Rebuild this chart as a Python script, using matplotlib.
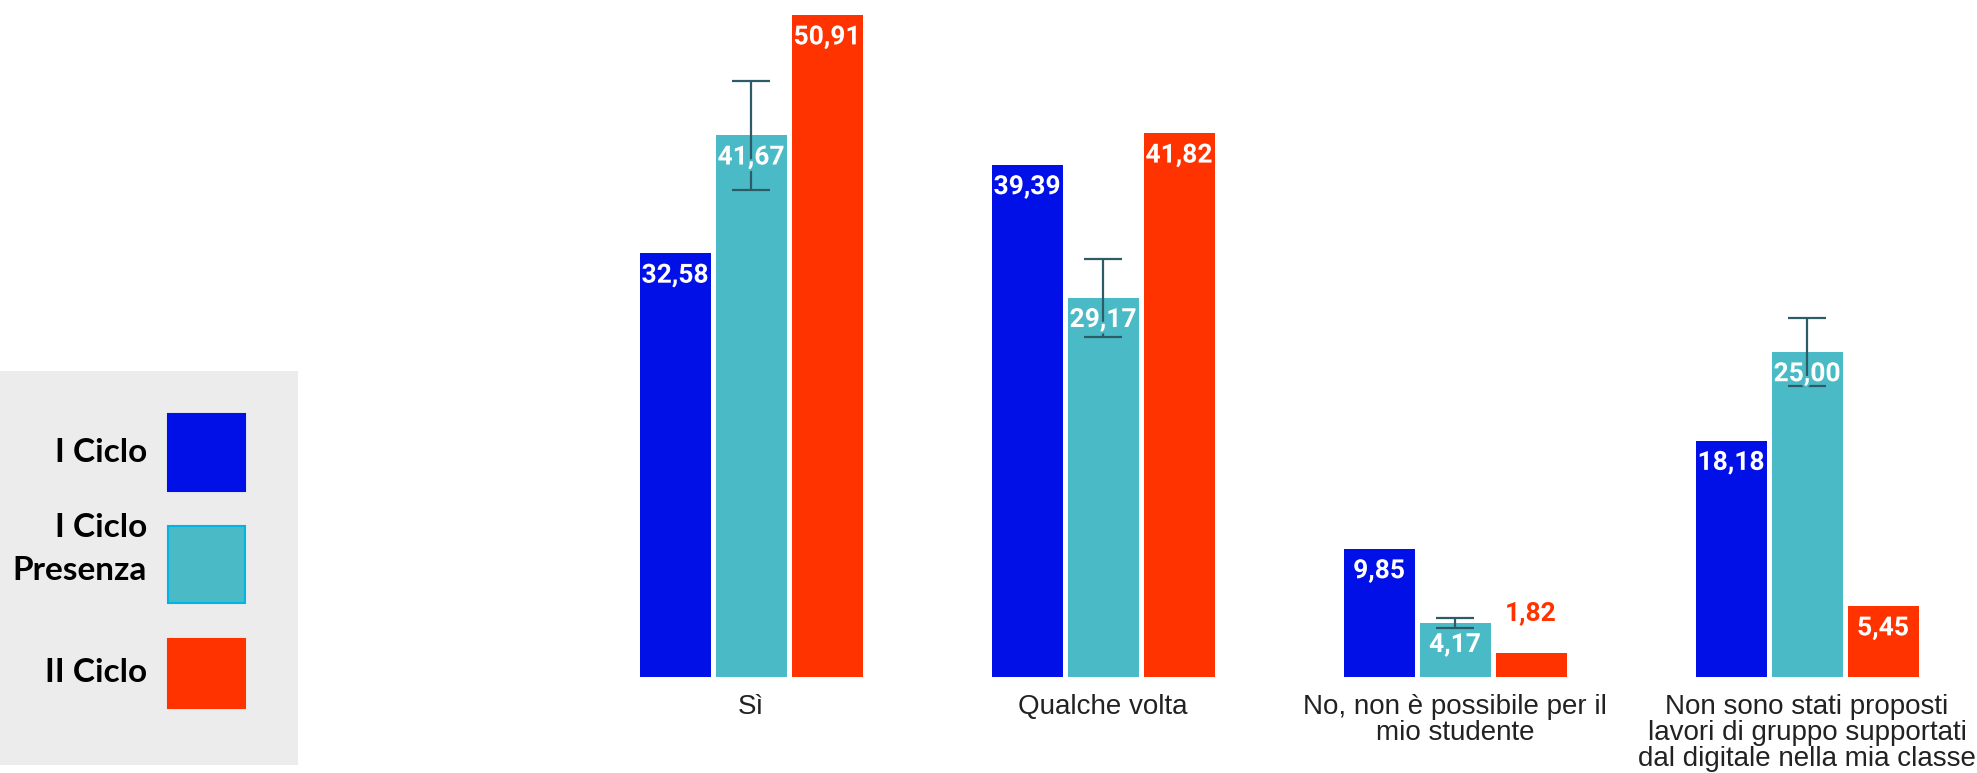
import matplotlib
matplotlib.use("Agg")
import matplotlib.pyplot as plt
import matplotlib.patheffects as pe
from matplotlib.patches import Rectangle
import numpy as np

# data
categories = ["Sì", "Qualche volta", "No, non è possibile per il\nmio studente",
              "Non sono stati proposti\nlavori di gruppo supportati\ndal digitale nella mia classe"]
series = ["I Ciclo", "I Ciclo\nPresenza", "II Ciclo"]
i_ciclo = [32.58, 39.39, 9.85, 18.18]
i_ciclo_presenza = [41.67, 29.17, 4.17, 25.00]
ii_ciclo = [50.91, 41.82, 1.82, 5.45]
presenza_err = [4.17, 3.0, 0.4, 2.6]

colors = ["#0010e6", "#4abbc6", "#ff3300"]
W, H = 1977, 773

fig = plt.figure(figsize=(W / 100, H / 100), dpi=100)

# main axes, laid out in pixels
ax_left, ax_bottom = 560, 96
ax = fig.add_axes([ax_left / W, ax_bottom / H, (W - ax_left) / W, (H - ax_bottom) / H])
x = np.arange(len(categories))
px_per_unit = 352.0
bw = 71 / px_per_unit
step = 76 / px_per_unit
ax.set_xlim(-(751 - ax_left) / px_per_unit, (W - 751) / px_per_unit)
ax.set_ylim(0, 677 / 13.0)

values = [i_ciclo, i_ciclo_presenza, ii_ciclo]
for k, (vals, col) in enumerate(zip(values, colors)):
    xs = x + (k - 1) * step
    ax.bar(xs, vals, width=bw, color=col, zorder=2)
    if k == 1:
        ax.errorbar(xs, vals, yerr=presenza_err, fmt="none", ecolor="#2d5c66",
                    elinewidth=1.6, capsize=14, capthick=1.6, zorder=3)
    for xi, v in zip(xs, vals):
        if v < 3:
            ax.annotate(f"{v:.2f}".replace(".", ","), (xi, v), xytext=(0, 29),
                        textcoords="offset points", ha="center", va="center",
                        fontsize=19, fontweight="bold", family="Roboto",
                        color=col, zorder=4)
        else:
            t = ax.annotate(f"{v:.2f}".replace(".", ","), (xi, v), xytext=(0, -16),
                            textcoords="offset points", ha="center", va="center",
                            fontsize=19, fontweight="bold", family="Roboto",
                            color="white", zorder=4)
            t.set_path_effects([pe.withStroke(linewidth=3, foreground=col)])

ax.set_xticks(x)
ax.set_xticklabels(categories, fontsize=20, family="Liberation Sans",
                   color="#222222", linespacing=1.0)
ax.tick_params(axis="x", length=0, pad=12)
ax.set_yticks([])
for s in ax.spines.values():
    s.set_visible(False)

# legend panel on the left
lg = fig.add_axes([0, 0, 1, 1], zorder=-1)
lg.set_xlim(0, W)
lg.set_ylim(H, 0)
lg.axis("off")
lg.add_patch(Rectangle((0, 371), 298, 394, facecolor="#ececec", edgecolor="none"))
sw_tops = [414, 526, 639]
sw_heights = [77, 77, 69]
text_y = [453, 549, 673]
for name, col, top, h, ty in zip(series, colors, sw_tops, sw_heights, text_y):
    ec = "#00b4e6" if "Presenza" in name else col
    lg.add_patch(Rectangle((168, top), 77, h, facecolor=col, edgecolor=ec, linewidth=1.5))
    lg.text(147, ty, name, ha="right", va="center", fontsize=24,
            fontweight="bold", family="Lato", color="black",
            multialignment="right", linespacing=1.55)

fig.savefig("out.png", dpi=100)
